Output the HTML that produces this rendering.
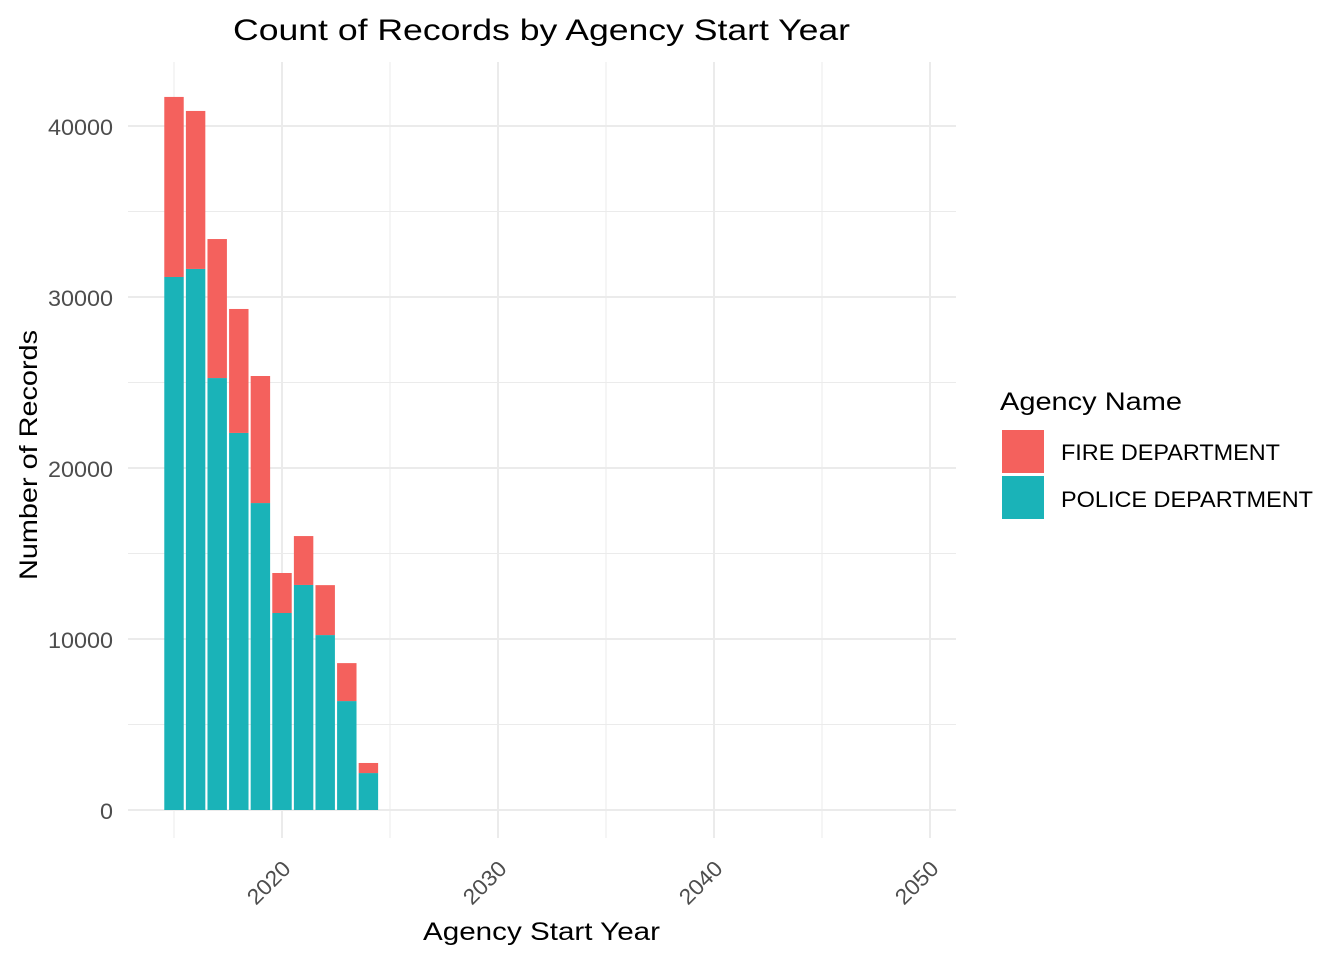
<!DOCTYPE html>
<html><head><meta charset="utf-8"><style>
body{margin:0;background:#fff;}
svg{display:block;font-family:"Liberation Sans",Arial,sans-serif;}
</style></head><body>
<svg id="chart" width="1344" height="960">
<g id="grid"></g>
<g id="bars"></g>
<g id="axes"></g>
<text x="233" y="40" font-size="30" textLength="617" lengthAdjust="spacingAndGlyphs" fill="#000">Count of Records by Agency Start Year</text>
<text x="423" y="940" font-size="25" textLength="237" lengthAdjust="spacingAndGlyphs" fill="#000">Agency Start Year</text>
<text transform="translate(37,580) rotate(-90)" font-size="25" textLength="250" lengthAdjust="spacingAndGlyphs" fill="#000">Number of Records</text>
<g>
<text x="1000" y="410" font-size="25" textLength="182" lengthAdjust="spacingAndGlyphs" fill="#000">Agency Name</text>
<rect x="1002" y="430" width="42" height="43" fill="#F4615D"/>
<rect x="1002" y="476" width="42" height="43" fill="#1AB3B8"/>
<text x="1061" y="460" font-size="22" textLength="219" lengthAdjust="spacingAndGlyphs" fill="#000">FIRE DEPARTMENT</text>
<text x="1061" y="507" font-size="22" textLength="252" lengthAdjust="spacingAndGlyphs" fill="#000">POLICE DEPARTMENT</text>
</g>
</svg>
<script>
const years = [2015,2016,2017,2018,2019,2020,2021,2022,2023,2024];
const police = [31170,31640,25260,22050,17950,11520,13160,10230,6370,2160];
const fire = [10530,9240,8130,7250,7430,2340,2860,2920,2220,590];
const yTicks = [0,10000,20000,30000,40000];
const xTicks = [2020,2030,2040,2050];
const NS="http://www.w3.org/2000/svg";
const x = v => 282 + (v-2020)*21.6;
const y = v => 810 - v*0.0171;
const P = {l:128,r:956,t:62,b:838};
function mk(tag,attrs,parent){const e=document.createElementNS(NS,tag);for(const k in attrs)e.setAttribute(k,attrs[k]);parent.appendChild(e);return e;}
const grid=document.getElementById('grid'),bars=document.getElementById('bars'),axes=document.getElementById('axes');
for(let v=5000;v<=45000;v+=10000){if(y(v)<P.t)continue;
 const l=mk('line',{x1:P.l,x2:P.r,y1:y(v),y2:y(v),stroke:'#ebebeb','stroke-width':1},grid);
 
 }
for(let v=2015;v<=2045;v+=10){
 const l=mk('line',{x1:x(v),x2:x(v),y1:P.t,y2:P.b,stroke:'#ebebeb','stroke-width':1},grid);
 
 }
yTicks.forEach(v=>{
 const l=mk('line',{x1:P.l,x2:P.r,y1:y(v),y2:y(v),stroke:'#ebebeb','stroke-width':2},grid);
 
 
 const s=String(v);
 const t=mk('text',{x:113,y:y(v)+9,'text-anchor':'end','font-size':22,fill:'#4d4d4d',textLength:s.length*13,lengthAdjust:'spacingAndGlyphs'},axes);
 t.textContent=s;
 
 });
xTicks.forEach(v=>{
 const l=mk('line',{x1:x(v),x2:x(v),y1:P.t,y2:P.b,stroke:'#ebebeb','stroke-width':2},grid);
 
 
 const t=mk('text',{transform:`translate(${x(v)+10},870) rotate(-45)`,'text-anchor':'end','font-size':22,fill:'#4d4d4d',textLength:51,lengthAdjust:'spacingAndGlyphs'},axes);
 t.textContent=v;
 
 });
const bw=21.6*0.9;
years.forEach((yr,i)=>{
 const p=mk('rect',{x:x(yr)-bw/2,width:bw,y:y(police[i]),height:y(0)-y(police[i]),fill:'#1AB3B8'},bars);
 
 
 const tot=police[i]+fire[i];
 const f=mk('rect',{x:x(yr)-bw/2,width:bw,y:y(tot),height:y(police[i])-y(tot),fill:'#F4615D'},bars);
 
 });
</script>
</body></html>
